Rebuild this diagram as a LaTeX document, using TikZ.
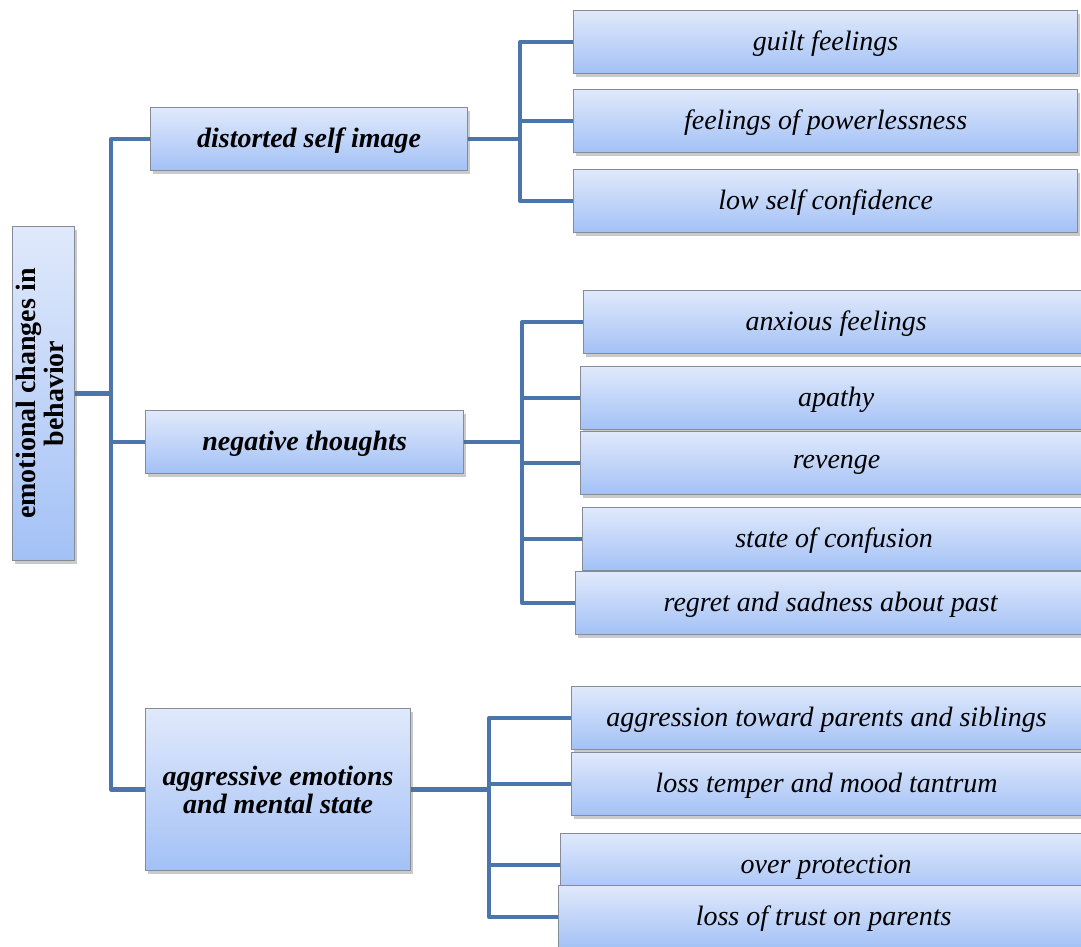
\documentclass[tikz,border=0pt]{standalone}
\usepackage{fontspec}
\setmainfont{Liberation Serif}
\usetikzlibrary{shadows}
\definecolor{lnk}{HTML}{4A76AB}
\definecolor{btop}{HTML}{E0E9FB}
\definecolor{bbot}{HTML}{A3C1F6}
\definecolor{bord}{HTML}{858C97}
\pgfdeclarelayer{background}
\pgfsetlayers{background,main}
\tikzset{
  box/.style={draw=bord, line width=1.2pt, top color=btop, bottom color=bbot,
    drop shadow={shadow xshift=2pt, shadow yshift=-3pt, opacity=0.35, fill=black!60},
    inner sep=0pt, anchor=north west, minimum height=63pt},
  item/.style={box, font=\fontsize{28}{28}\selectfont\itshape, text depth=2pt},
  mid/.style={box, font=\fontsize{28}{28}\selectfont\bfseries\itshape, align=center},
  link/.style={draw=lnk, line width=4.5pt, line join=round}
}
\begin{document}
\begin{tikzpicture}[x=1pt,y=-1pt]
\path[use as bounding box] (0,0) rectangle (1081,947);
% root
\node[box, minimum width=62pt, minimum height=334pt, font=\fontsize{28}{27}\selectfont\bfseries] (root) at (12,226)
  {\rotatebox{90}{\begin{tabular}{@{}c@{}}emotional changes in\\behavior\end{tabular}}};
% level 1
\node[mid, minimum width=317pt, text depth=2pt] (d1) at (150,107) {distorted self image};
\node[mid, minimum width=318pt, text depth=2pt] (d2) at (145,410) {negative thoughts};
\node[mid, minimum width=265pt, minimum height=162pt] (d3) at (145,708) {aggressive emotions\\and mental state};
% children of d1
\node[item, minimum width=504pt] (g1) at (573,10) {guilt feelings};
\node[item, minimum width=504pt] (g2) at (573,89) {feelings of powerlessness};
\node[item, minimum width=504pt] (g3) at (573,169) {low self confidence};
% children of d2
\node[item, minimum width=505pt] (n1) at (583,290) {anxious feelings};
\node[item, minimum width=511pt] (n2) at (580,366) {apathy};
\node[item, minimum width=512pt] (n3) at (580,431) {revenge};
\node[item, minimum width=503pt] (n4) at (582,507) {state of confusion};
\node[item, minimum width=510pt] (n5) at (575,571) {regret and sadness about past};
% children of d3
\node[item, minimum width=510pt] (a1) at (571,686) {aggression toward parents and siblings};
\node[item, minimum width=510pt] (a2) at (571,752) {loss temper and mood tantrum};
\node[item, minimum width=531pt] (a3) at (560,833) {over protection};
\node[item, minimum width=530pt] (a4) at (558,885) {loss of trust on parents};
% connectors
\begin{pgfonlayer}{background}
\foreach \c in {d1,d2,d3} \draw[link] (root.east) -- ++(36,0) |- (\c.west);
\foreach \c in {g1,g2,g3} \draw[link] (d1.east) -- ++(52,0) |- (\c.west);
\foreach \c in {n1,n2,n3,n4,n5} \draw[link] (d2.east) -- ++(58,0) |- (\c.west);
\foreach \c in {a1,a2,a3,a4} \draw[link] (d3.east) -- ++(78,0) |- (\c.west);
\end{pgfonlayer}
\end{tikzpicture}
\end{document}
